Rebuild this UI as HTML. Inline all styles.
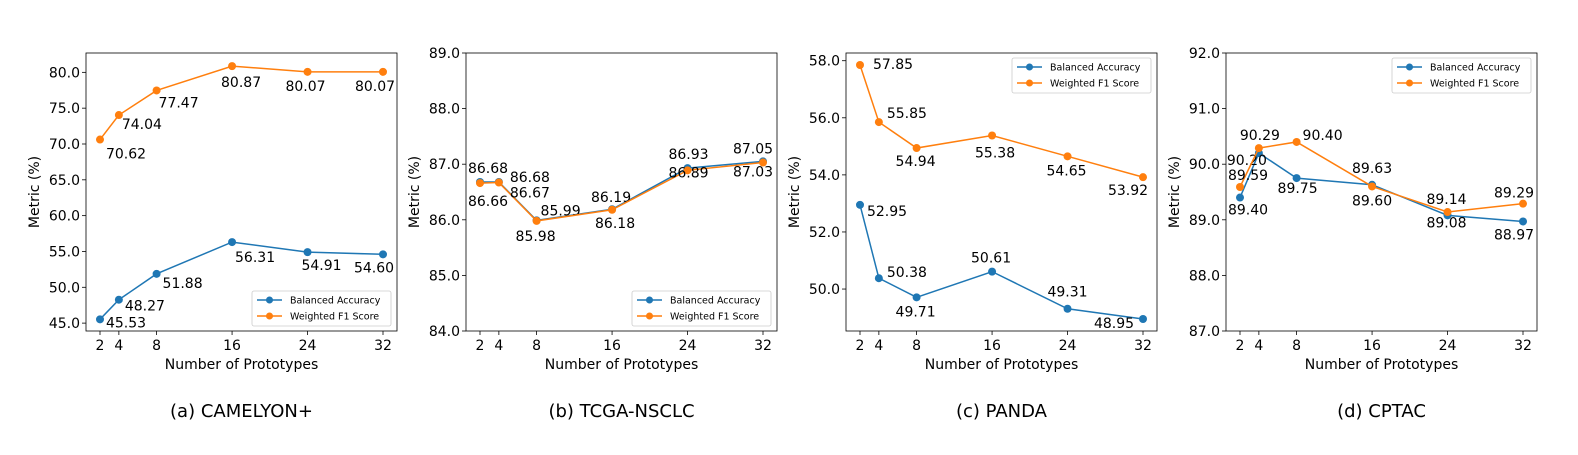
<!DOCTYPE html>
<html><head><meta charset="utf-8">
<style>
html,body{margin:0;padding:0;background:#fff;}
svg{display:block;font-family:"DejaVu Sans","Liberation Sans",sans-serif;}
</style></head>
<body>
<svg id="fig" width="1578" height="455" viewBox="0 0 1578 455" xmlns="http://www.w3.org/2000/svg"></svg>
<script>
// shared x categories
const prototypes = [2, 4, 8, 16, 24, 32];
const xTicks = [2, 4, 8, 16, 24, 32];
// (a) CAMELYON+
const camBA = [45.53, 48.27, 51.88, 56.31, 54.91, 54.60];
const camF1 = [70.62, 74.04, 77.47, 80.87, 80.07, 80.07];
const camTicks = [45, 50, 55, 60, 65, 70, 75, 80];
// (b) TCGA-NSCLC
const nscBA = [86.68, 86.68, 85.99, 86.19, 86.93, 87.05];
const nscF1 = [86.66, 86.67, 85.98, 86.18, 86.89, 87.03];
const nscTicks = [84, 85, 86, 87, 88, 89];
// (c) PANDA
const panBA = [52.95, 50.38, 49.71, 50.61, 49.31, 48.95];
const panF1 = [57.85, 55.85, 54.94, 55.38, 54.65, 53.92];
const panTicks = [50, 52, 54, 56, 58];
// (d) CPTAC
const cptBA = [89.40, 90.20, 89.75, 89.63, 89.08, 88.97];
const cptF1 = [89.59, 90.29, 90.40, 89.60, 89.14, 89.29];
const cptTicks = [87, 88, 89, 90, 91, 92];

const NS = "http://www.w3.org/2000/svg";
const svg = document.getElementById('fig');
const BLUE = '#1f77b4', ORANGE = '#ff7f0e';
function mk(tag, attrs, parent, text){
  const e = document.createElementNS(NS, tag);
  for (const k in attrs) e.setAttribute(k, attrs[k]);
  if (text !== undefined) e.textContent = text;
  (parent || svg).appendChild(e);
  return e;
}

const panels = [
  {id:'camelyon', left:86, ymin:43.9, ymax:82.7, ticks:camTicks, ba:camBA, f1:camF1, legend:'bottom', cap:'(a) CAMELYON+',
   baOff:[[26,8],[26,11],[26,14],[23,20],[14,18],[-9,18]],
   f1Off:[[26,19],[23,14],[22,17],[9,21],[-2,19],[-8,19]]},
  {id:'tcga-nsclc', left:466, ymin:84, ymax:89, ticks:nscTicks, ba:nscBA, f1:nscF1, legend:'bottom', cap:'(b) TCGA-NSCLC',
   baOff:[[8,-9],[31,0],[24,-5],[-1,-7],[1,-9],[-10,-8]],
   f1Off:[[8,23],[31,15],[-1,20],[3,18],[1,7],[-10,14]]},
  {id:'panda', left:846, ymin:48.53, ymax:58.27, ticks:panTicks, ba:panBA, f1:panF1, legend:'top', cap:'(c) PANDA',
   baOff:[[27,11],[28,-1],[-1,19],[-1,-9],[0,-12],[-29,9]],
   f1Off:[[33,4],[28,-4],[-1,18],[3,22],[-1,19],[-15,18]]},
  {id:'cptac', left:1226, ymin:87, ymax:92, ticks:cptTicks, ba:cptBA, f1:cptF1, legend:'top', cap:'(d) CPTAC',
   baOff:[[8,17],[-12,12],[1,15],[0,-12],[-1,12],[-9,18]],
   f1Off:[[8,-7],[1,-8],[26,-2],[0,19],[-1,-8],[-9,-6]]}
];

const TOP = 53, BOT = 331, W = 311;
panels.forEach(p => {
  const g = mk('g', {});
  
  
  const xs = v => p.left + 14 + (v - 2) * (W - 28) / 30;
  const ys = v => BOT - (v - p.ymin) * (BOT - TOP) / (p.ymax - p.ymin);

  // ticks
  xTicks.forEach(t => {
    const x = xs(t);
    mk('line', {x1:x, x2:x, y1:BOT, y2:BOT+4, stroke:'#000', 'stroke-width':0.8}, g);
    const tl = mk('text', {x:x, y:350, 'text-anchor':'middle', 'font-size':14, fill:'#000'}, g, String(t));
    
    
  });
  p.ticks.forEach(t => {
    const y = ys(t);
    mk('line', {x1:p.left-4, x2:p.left, y1:y, y2:y, stroke:'#000', 'stroke-width':0.8}, g);
    const tl = mk('text', {x:p.left-6, y:y+5, 'text-anchor':'end', 'font-size':14, fill:'#000'}, g, t.toFixed(1));
    
    
  });
  const xl = mk('text', {x:p.left+W/2, y:369, 'text-anchor':'middle', 'font-size':14, fill:'#000'}, g, 'Number of Prototypes');
  
  
  const yl = mk('text', {x:0, y:0, 'text-anchor':'middle', 'font-size':14, fill:'#000',
    transform:`translate(${p.left-47},${(TOP+BOT)/2}) rotate(-90)`}, g, 'Metric (%)');
  
  
  const cap = mk('text', {x:p.left+W/2, y:417, 'text-anchor':'middle', 'font-size':18, fill:'#000'}, g, p.cap);
  
  

  // series
  [[p.ba, BLUE, 'balanced-accuracy', p.baOff], [p.f1, ORANGE, 'weighted-f1', p.f1Off]].forEach(([vals, col, nm, off]) => {
    const pts = vals.map((v, i) => xs(prototypes[i]) + ',' + ys(v)).join(' ');
    const ln = mk('polyline', {points:pts, fill:'none', stroke:col, 'stroke-width':1.5}, g);
    
    
    vals.forEach((v, i) => {
      const c = mk('circle', {cx:xs(prototypes[i]), cy:ys(v), r:4, fill:col}, g);
      
      
    });
    vals.forEach((v, i) => {
      const t = mk('text', {x:xs(prototypes[i]) + off[i][0], y:ys(v) + off[i][1], 'text-anchor':'middle', 'font-size':14, fill:'#000'}, g, v.toFixed(2));
      
      
    });
  });

  // frame
  const fr = mk('rect', {x:p.left, y:TOP, width:W, height:BOT-TOP, fill:'none', stroke:'#000', 'stroke-width':0.8}, g);
  
  

  // legend
  const lw = 139, lh = 35;
  const lx = p.left + W - 6 - lw;
  const ly = p.legend === 'top' ? TOP + 5 : BOT - 5 - lh;
  const lg = mk('g', {}, g);
  
  
  mk('rect', {x:lx, y:ly, width:lw, height:lh, rx:2, fill:'#fff', 'fill-opacity':0.8, stroke:'#ccc', 'stroke-width':0.8}, lg);
  [['Balanced Accuracy', BLUE, 9], ['Weighted F1 Score', ORANGE, 25]].forEach(([lab, col, dy]) => {
    const e = mk('g', {}, lg);
    
    
    mk('line', {x1:lx+5, x2:lx+30, y1:ly+dy, y2:ly+dy, stroke:col, 'stroke-width':1.5}, e);
    mk('circle', {cx:lx+17.5, cy:ly+dy, r:3.5, fill:col}, e);
    mk('text', {x:lx+38, y:ly+dy+3.5, 'font-size':9.5, fill:'#000'}, e, lab);
  });
});
</script>
</body></html>
